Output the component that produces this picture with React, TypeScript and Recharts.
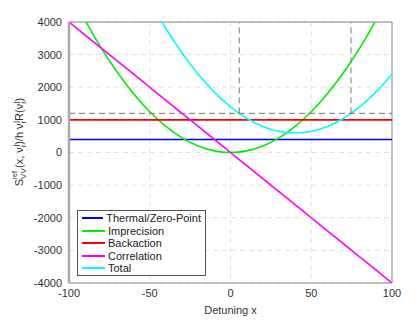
import React from "react";
import {
  LineChart,
  Line,
  XAxis,
  YAxis,
  CartesianGrid,
  ReferenceLine,
} from "recharts";

// detuning samples
const detuning = [
  -100, -90, -80, -70, -60, -50, -40, -30, -20, -10, 0, 10, 20, 30, 40, 50, 60, 70, 80, 90, 100,
];
const thermal = [
  400, 400, 400, 400, 400, 400, 400, 400, 400, 400, 400, 400, 400, 400, 400, 400, 400, 400, 400, 400, 400,
];
const imprecision = [
  5000, 4050, 3200, 2450, 1800, 1250, 800, 450, 200, 50, 0, 50, 200, 450, 800, 1250, 1800, 2450, 3200, 4050, 5000,
];
const backaction = [
  1000, 1000, 1000, 1000, 1000, 1000, 1000, 1000, 1000, 1000, 1000, 1000, 1000, 1000, 1000, 1000, 1000, 1000, 1000, 1000, 1000,
];
const correlation = [
  4000, 3600, 3200, 2800, 2400, 2000, 1600, 1200, 800, 400, 0, -400, -800, -1200, -1600, -2000, -2400, -2800, -3200, -3600, -4000,
];
const total = [
  10400, 9050, 7800, 6650, 5600, 4650, 3800, 3050, 2400, 1850, 1400, 1050, 800, 650, 600, 650, 800, 1050, 1400, 1850, 2400,
];

const xTicks = [-100, -50, 0, 50, 100];
const yTicks = [-4000, -3000, -2000, -1000, 0, 1000, 2000, 3000, 4000];

// dashed markers: level of 1200 and where total meets it
const markerLevel = 1200;
const markerX = [5.4, 74.6];

const series = [
  { key: "thermal", name: "Thermal/Zero-Point", color: "#0000ff" },
  { key: "imprecision", name: "Imprecision", color: "#00ee00" },
  { key: "backaction", name: "Backaction", color: "#ff0000" },
  { key: "correlation", name: "Correlation", color: "#ff00ff" },
  { key: "total", name: "Total", color: "#00ffff" },
];

const data = detuning.map((x, i) => ({
  x,
  thermal: thermal[i],
  imprecision: imprecision[i],
  backaction: backaction[i],
  correlation: correlation[i],
  total: total[i],
}));

const font = "'Liberation Sans', Arial, sans-serif";
const tickStyle = { fill: "#333", fontSize: 11, fontFamily: font };

const YLabel = () => (
  <text
    x={23}
    y={142}
    transform="rotate(-90, 23, 142)"
    textAnchor="middle"
    fontSize={11}
    fontFamily={font}
    fill="#333"
  >
    <tspan>S</tspan>
    <tspan fontSize={8} dy={3}>VV</tspan>
    <tspan fontSize={7} dx={-11} dy={-9}>ref</tspan>
    <tspan dy={6}> (x, ν</tspan>
    <tspan fontSize={8} dy={3}>r</tspan>
    <tspan fontSize={8} dx={-2} dy={-8}>j</tspan>
    <tspan dy={5}>)/h ν</tspan>
    <tspan fontSize={8} dy={3}>r</tspan>
    <tspan fontSize={8} dx={-2} dy={-8}>j</tspan>
    <tspan dy={5}>R(ν</tspan>
    <tspan fontSize={8} dy={3}>r</tspan>
    <tspan fontSize={8} dx={-2} dy={-8}>j</tspan>
    <tspan dy={5}>)</tspan>
  </text>
);

const LegendBox = () => (
  <div
    style={{
      position: "absolute",
      left: 77,
      top: 210,
      width: 129,
      height: 66,
      boxSizing: "border-box",
      border: "1px solid #555",
      background: "#fff",
      padding: "1px 4px",
      fontFamily: font,
      fontSize: 11,
      color: "#222",
      whiteSpace: "nowrap",
    }}
  >
    {series.map((s) => (
      <div key={s.key} style={{ display: "flex", alignItems: "center", height: 12.5 }}>
        <span style={{ display: "inline-block", width: 23, height: 2, background: s.color, marginRight: 3 }} />
        <span>{s.name}</span>
      </div>
    ))}
  </div>
);

export default function App() {
  return (
    <div style={{ position: "absolute", left: 0, top: 0, width: 415, height: 321, background: "#fff" }}>
      <LineChart
        width={415}
        height={321}
        data={data}
        margin={{ top: 22, right: 23, bottom: 6, left: 0 }}
      >
        <CartesianGrid stroke="#e2e2e2" strokeDasharray="5 4" />
        <XAxis
          dataKey="x"
          type="number"
          domain={[-100, 100]}
          ticks={xTicks}
          height={32}
          tick={tickStyle}
          tickLine={false}
          tickMargin={0}
          axisLine={{ stroke: "#888" }}
          label={{
            value: "Detuning x",
            position: "insideBottom",
            offset: 1,
            style: { fill: "#333", fontSize: 11, fontFamily: font },
          }}
        />
        <YAxis
          type="number"
          domain={[-4000, 4000]}
          allowDataOverflow
          ticks={yTicks}
          width={69}
          tick={tickStyle}
          tickLine={false}
          tickMargin={1}
          axisLine={{ stroke: "#aaa", strokeWidth: 2.5 }}
          label={{ content: <YLabel /> }}
        />
        <ReferenceLine y={4000} stroke="#888" />
        <ReferenceLine x={100} stroke="#888" />
        {series.map((s) => (
          <Line
            key={s.key}
            dataKey={s.key}
            name={s.name}
            type="monotone"
            stroke={s.color}
            strokeWidth={1.6}
            dot={false}
            isAnimationActive={false}
          />
        ))}
        <ReferenceLine y={markerLevel} stroke="#777" strokeDasharray="6 4" />
        {markerX.map((mx) => (
          <ReferenceLine
            key={mx}
            segment={[
              { x: mx, y: markerLevel },
              { x: mx, y: 4000 },
            ]}
            stroke="#777"
            strokeDasharray="6 4"
          />
        ))}
      </LineChart>
      <LegendBox />
    </div>
  );
}
